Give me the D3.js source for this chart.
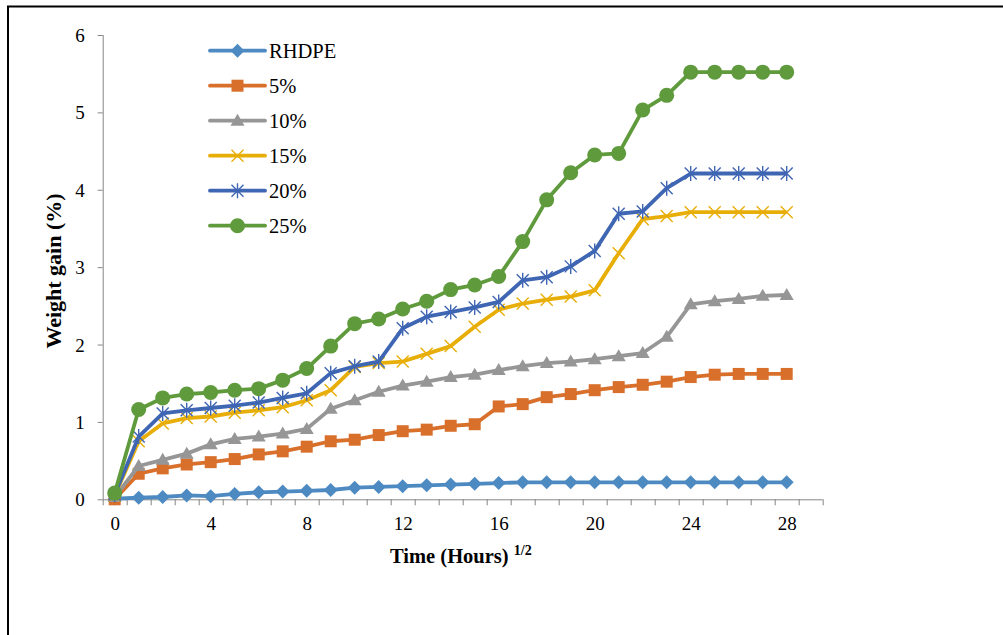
<!DOCTYPE html>
<html>
<head>
<meta charset="utf-8">
<script src="https://cdn.jsdelivr.net/npm/d3@7"></script>
<style>
  body { margin: 0; background: #fff; }
  svg text { font-family: "Liberation Serif", "Times New Roman", serif; fill: #000; }
</style>
</head>
<body>
<svg id="chart" width="1003" height="635"></svg>
<script>
// data: x is the category 0..28, y is weight gain (%)
var times = d3.range(0, 29);
var xLabels = [0, 4, 8, 12, 16, 20, 24, 28];
var yTicks = [0, 1, 2, 3, 4, 5, 6];

var seriesNames = ['RHDPE', '5%', '10%', '15%', '20%', '25%'];

var rhdpe = [0.01, 0.02, 0.03, 0.05, 0.04, 0.07, 0.09, 0.10, 0.11, 0.12, 0.15, 0.16, 0.17, 0.18, 0.19, 0.20, 0.21, 0.22,
             0.22, 0.22, 0.22, 0.22, 0.22, 0.22, 0.22, 0.22, 0.22, 0.22, 0.22];
var p5 = [0.00, 0.33, 0.40, 0.45, 0.48, 0.52, 0.58, 0.62, 0.68, 0.75, 0.77, 0.83, 0.88, 0.90, 0.95, 0.97, 1.20, 1.23,
          1.32, 1.36, 1.41, 1.45, 1.48, 1.52, 1.58, 1.61, 1.62, 1.62, 1.62];
var p10 = [0.03, 0.43, 0.51, 0.59, 0.71, 0.78, 0.81, 0.85, 0.91, 1.17, 1.28, 1.39, 1.47, 1.52, 1.58, 1.61, 1.67, 1.72,
           1.76, 1.78, 1.81, 1.85, 1.89, 2.10, 2.52, 2.56, 2.59, 2.63, 2.64];
var p15 = [0.05, 0.75, 0.98, 1.05, 1.07, 1.12, 1.15, 1.19, 1.28, 1.41, 1.71, 1.76, 1.78, 1.88, 1.98, 2.23, 2.45, 2.53,
           2.58, 2.62, 2.70, 3.18, 3.62, 3.66, 3.71, 3.71, 3.71, 3.71, 3.71];
var p20 = [0.06, 0.81, 1.11, 1.15, 1.18, 1.21, 1.25, 1.31, 1.37, 1.63, 1.72, 1.78, 2.21, 2.36, 2.42, 2.48, 2.55, 2.83,
           2.87, 3.01, 3.21, 3.69, 3.72, 4.02, 4.21, 4.21, 4.21, 4.21, 4.21];
var p25 = [0.08, 1.16, 1.31, 1.36, 1.38, 1.41, 1.43, 1.54, 1.69, 1.98, 2.27, 2.33, 2.46, 2.56, 2.71, 2.77, 2.88, 3.33,
           3.87, 4.22, 4.45, 4.47, 5.03, 5.22, 5.52, 5.52, 5.52, 5.52, 5.52];

var colors = ['#4e8ac2', '#d8702c', '#969696', '#e8ae08', '#3e66b3', '#5f9a3c'];
var shapes = ['diamond', 'square', 'triangle', 'x', 'star', 'circle'];

var svg = d3.select('#chart');

// outer frame (runs off the right and bottom edges)
svg.append('rect')
  .attr('x', 8).attr('y', 6.5)
  .attr('width', 1100).attr('height', 700)
  .attr('fill', 'none').attr('stroke', '#000').attr('stroke-width', 2);

var x = d3.scaleLinear().domain([-0.5, 29.5]).range([102.7, 822.7]);
var y = d3.scaleLinear().domain([0, 6]).range([499.3, 35]);

// y axis
var yAxis = svg.append('g')
  .attr('transform', 'translate(' + x(-0.5) + ',0)')
  .call(d3.axisLeft(y).tickValues(yTicks).tickSize(5).tickPadding(13).tickFormat(d3.format('d')));
yAxis.selectAll('path, line').attr('stroke', '#868686');
yAxis.select('.domain').attr('d', 'M0.5,' + y(6) + 'V' + y(0));
yAxis.selectAll('text').style('font-size', '19px').attr('dy', '0.34em');

// x axis: tick marks between categories, labels every 4th
var bounds = d3.range(-0.5, 30, 1);
var xAxis = svg.append('g')
  .attr('transform', 'translate(0,' + y(0) + ')')
  .call(d3.axisBottom(x).tickValues(bounds).tickSize(6).tickFormat(''));
xAxis.selectAll('path, line').attr('stroke', '#868686');
xAxis.select('.domain').attr('d', 'M' + x(-0.5) + ',0.5H' + x(29.5));

var xLab = svg.append('g')
  .attr('transform', 'translate(0,' + y(0) + ')')
  .call(d3.axisBottom(x).tickValues(xLabels).tickSize(0).tickPadding(17));
xLab.select('.domain').remove();
xLab.selectAll('text').style('font-size', '19px');

// axis titles
svg.append('text')
  .attr('transform', 'translate(61,271) rotate(-90)')
  .attr('text-anchor', 'middle')
  .style('font-size', '22px').style('font-weight', 'bold')
  .text('Weight gain (%)');

var xt = svg.append('text')
  .attr('x', 390).attr('y', 563)
  .style('font-size', '20.5px').style('font-weight', 'bold');
xt.append('tspan').text('Time (Hours) ');
xt.append('tspan').attr('dy', -8).style('font-size', '14px').text('1/2');

// marker drawing
function marker(g, shape, color) {
  if (shape === 'diamond') {
    g.append('path').attr('d', 'M0,-7L7,0L0,7L-7,0Z').attr('fill', color);
  } else if (shape === 'square') {
    g.append('rect').attr('x', -6).attr('y', -6).attr('width', 12).attr('height', 12).attr('fill', color);
  } else if (shape === 'triangle') {
    g.append('path').attr('d', 'M0,-7L7,5L-7,5Z').attr('fill', color);
  } else if (shape === 'x') {
    g.append('path').attr('d', 'M-6,-6L6,6M-6,6L6,-6').attr('stroke', color).attr('stroke-width', 1.4).attr('fill', 'none');
  } else if (shape === 'star') {
    g.append('path').attr('d', 'M-6,-6L6,6M-6,6L6,-6M0,-7.5L0,7.5').attr('stroke', color).attr('stroke-width', 1.4).attr('fill', 'none');
  } else {
    g.append('circle').attr('r', 7.5).attr('fill', color);
  }
}

var allSeries = [rhdpe, p5, p10, p15, p20, p25];
var line = d3.line().x(function(d, i) { return x(times[i]); }).y(function(d) { return y(d); });

allSeries.forEach(function(vals, s) {
  var g = svg.append('g');
  g.append('path')
    .datum(vals)
    .attr('d', line)
    .attr('fill', 'none')
    .attr('stroke', colors[s])
    .attr('stroke-width', 3.8)
    .attr('stroke-linejoin', 'round');
  g.selectAll('g.m')
    .data(vals)
    .enter()
    .append('g')
    .attr('class', 'm')
    .attr('transform', function(d, i) { return 'translate(' + x(times[i]) + ',' + y(d) + ')'; })
    .each(function() { marker(d3.select(this), shapes[s], colors[s]); });
});

// legend
var legend = svg.append('g');
seriesNames.forEach(function(name, i) {
  var ly = 50.7 + i * 35;
  var row = legend.append('g').attr('transform', 'translate(0,' + ly + ')');
  row.append('line')
    .attr('x1', 210).attr('x2', 265)
    .attr('stroke', colors[i]).attr('stroke-width', 3.8).attr('stroke-linecap', 'round');
  marker(row.append('g').attr('transform', 'translate(237.5,0)'), shapes[i], colors[i]);
  row.append('text')
    .attr('x', 269).attr('y', 0).attr('dy', '0.34em')
    .style('font-size', '20.5px')
    .text(name);
});
</script>
</body>
</html>
